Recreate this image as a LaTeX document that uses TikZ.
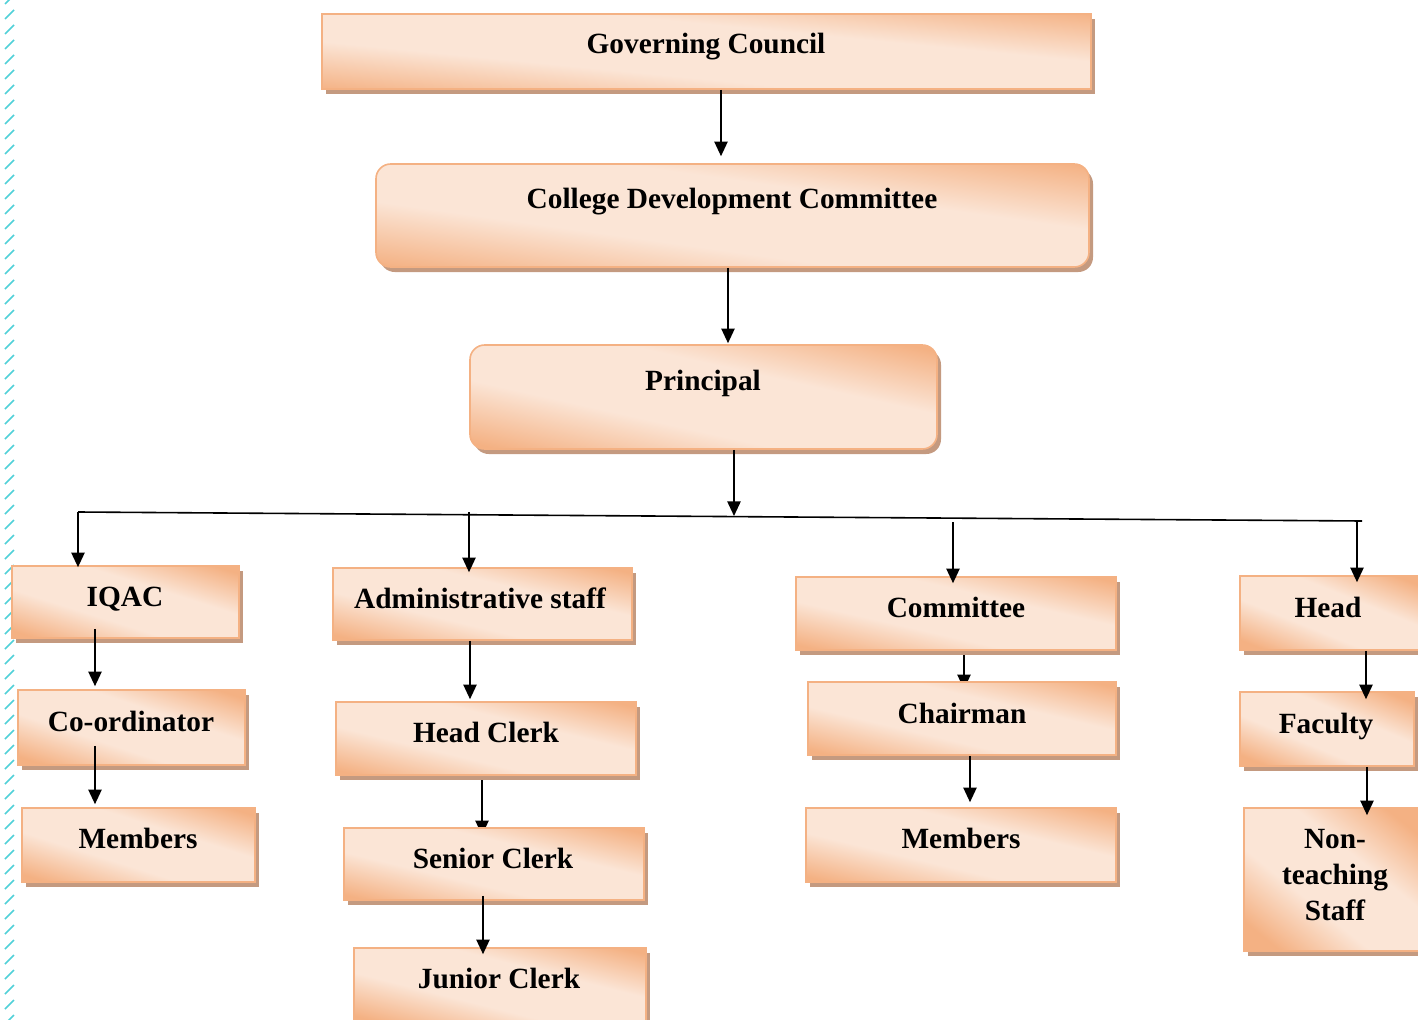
\documentclass[tikz,border=0pt]{standalone}
\usepackage{fontspec}
\setmainfont{Liberation Serif}
\usetikzlibrary{arrows.meta,shadows,fit,calc,backgrounds}

\definecolor{boxorange}{RGB}{244,177,131}
\definecolor{boxlight}{RGB}{251,229,214}
\definecolor{boxshadow}{RGB}{196,154,128}
\definecolor{edgecyan}{RGB}{80,208,216}

\pgfdeclareverticalshading{peach}{100bp}{color(0bp)=(boxorange); color(22bp)=(boxorange);
  color(40bp)=(boxlight); color(60bp)=(boxlight); color(78bp)=(boxorange); color(100bp)=(boxorange)}

\tikzset{
  orgbox/.style={draw=boxorange, line width=1.2pt, inner sep=0pt,
    shading=peach, shading angle=#1,
    drop shadow={shadow xshift=3pt, shadow yshift=-3.75pt, fill=boxshadow, opacity=1}},
  orgbox/.default=-14,
  roundbox/.style={orgbox=#1, rounded corners=11pt},
  boxtext/.style={font=\fontsize{22}{27}\selectfont\bfseries, inner sep=0pt,
    text height=15pt, text depth=0pt},
  boxlines/.style={font=\fontsize{22}{27}\selectfont\bfseries, inner sep=0pt, align=center},
  arr/.style={line width=1.2pt, -{Triangle[length=11pt,width=10pt]}},
}

\begin{document}
\begin{tikzpicture}[x=0.75pt,y=0.75pt,yscale=-1,xscale=1]
\useasboundingbox (0,0) rectangle (1418,1020);

% page edge marks
\foreach \y in {-1,14,...,1019}
  \draw[edgecyan, line width=1.2pt] (5,\y+5) -- (14,\y-4);

% Boxes
\node[orgbox=-5.6, fit={(322,14) (1091,89)}] (gc) {};
\node[roundbox=-8, fit={(376,164) (1089,267)}] (cdc) {};
\node[roundbox=-12.6, fit={(470,345) (937,449)}] (prin) {};

\node[orgbox=-17.6, fit={(12,566) (239,638)}] (iqac) {};
\node[orgbox=-18.3, fit={(18,690) (245,765)}] (coord) {};
\node[orgbox=-17.6, fit={(22,808) (255,882)}] (memL) {};

\node[orgbox=-13.5, fit={(333,568) (632,640)}] (admin) {};
\node[orgbox=-13.7, fit={(336,702) (636,775)}] (hclerk) {};
\node[orgbox=-13.5, fit={(344,828) (644,900)}] (sclerk) {};
\node[orgbox=-14.2, fit={(354,948) (646,1022)}] (jclerk) {};

\node[orgbox=-12.9, fit={(796,577) (1116,650)}] (comm) {};
\node[orgbox=-13.3, fit={(808,682) (1116,755)}] (chair) {};
\node[orgbox=-13.4, fit={(806,808) (1116,882)}] (memM) {};

\node[orgbox=-22, fit={(1240,576) (1422,650)}] (head) {};
\node[orgbox=-23, fit={(1240,692) (1414,766)}] (fac) {};
\node[orgbox=-38.8, fit={(1244,808) (1422,951)}] (nts) {};

% Text Node
\node[boxtext] (gc-t) at (706,44) {Governing Council};
\node[boxtext] (cdc-t) at (732,199) {College Development Committee};
\node[boxtext] (prin-t) at (703,380) {Principal};
\node[boxtext] (iqac-t) at (125,596) {IQAC};
\node[boxtext] (coord-t) at (131,721) {Co-ordinator};
\node[boxtext] (memL-t) at (138,838) {Members};
\node[boxtext] (admin-t) at (480,598) {Administrative staff};
\node[boxtext] (hclerk-t) at (486,732) {Head Clerk};
\node[boxtext] (sclerk-t) at (493,858) {Senior Clerk};
\node[boxtext] (jclerk-t) at (499,978) {Junior Clerk};
\node[boxtext] (comm-t) at (956,607) {Committee};
\node[boxtext] (chair-t) at (962,713) {Chairman};
\node[boxtext] (memM-t) at (961,838) {Members};
\node[boxtext] (head-t) at (1328,607) {Head};
\node[boxtext] (fac-t) at (1326,723) {Faculty};
\node[boxlines] (nts-t) at (1335,875) {Non-\\teaching\\Staff};

% bus line under Principal
\coordinate (busL) at (78,512);
\coordinate (busR) at (1362,521);
\coordinate (tapP) at (734,516);
\coordinate (tapA) at (469,512);
\coordinate (tapC) at (953,522);
\coordinate (tapH) at (1357,521);
\draw[line width=1.2pt] (busL) -- (busR);

% Arrows
\draw[arr] (721,0 |- gc.south) -- ($(721,0 |- cdc.north)+(0,-7)$);
\draw[arr] (728,0 |- cdc.south) -- ($(728,0 |- prin.north)+(0,-1)$);
\draw[arr] (734,0 |- prin.south) -- (tapP);
\draw[arr] (busL) -- ($(busL |- iqac.north)+(0,2)$);
\draw[arr] (tapA) -- ($(tapA |- admin.north)+(0,5)$);
\draw[arr] (tapC) -- ($(tapC |- comm.north)+(0,7)$);
\draw[arr] (tapH) -- ($(tapH |- head.north)+(0,7)$);

\draw[arr] ($(95,0 |- iqac.south)+(0,-10)$) -- ($(95,0 |- coord.north)+(0,-3)$);
\draw[arr] ($(95,0 |- coord.south)+(0,-20)$) -- ($(95,0 |- memL.north)+(0,-3)$);
\draw[arr] (470,0 |- admin.south) -- ($(470,0 |- hclerk.north)+(0,-2)$);
\draw[arr] ($(483,0 |- sclerk.south)+(0,-5)$) -- ($(483,0 |- jclerk.north)+(0,7)$);
\draw[arr] (970,0 |- chair.south) -- ($(970,0 |- memM.north)+(0,-5)$);
\draw[arr] (1366,0 |- head.south) -- ($(1366,0 |- fac.north)+(0,8)$);
\draw[arr] (1367,0 |- fac.south) -- ($(1367,0 |- nts.north)+(0,8)$);

% arrows whose tips go under the next box
\begin{pgfonlayer}{background}
\draw[arr] (482,0 |- hclerk.south) -- ($(482,0 |- sclerk.north)+(0,8)$);
\draw[arr] (964,0 |- comm.south) -- ($(964,0 |- chair.north)+(0,8)$);
\end{pgfonlayer}

\end{tikzpicture}
\end{document}
